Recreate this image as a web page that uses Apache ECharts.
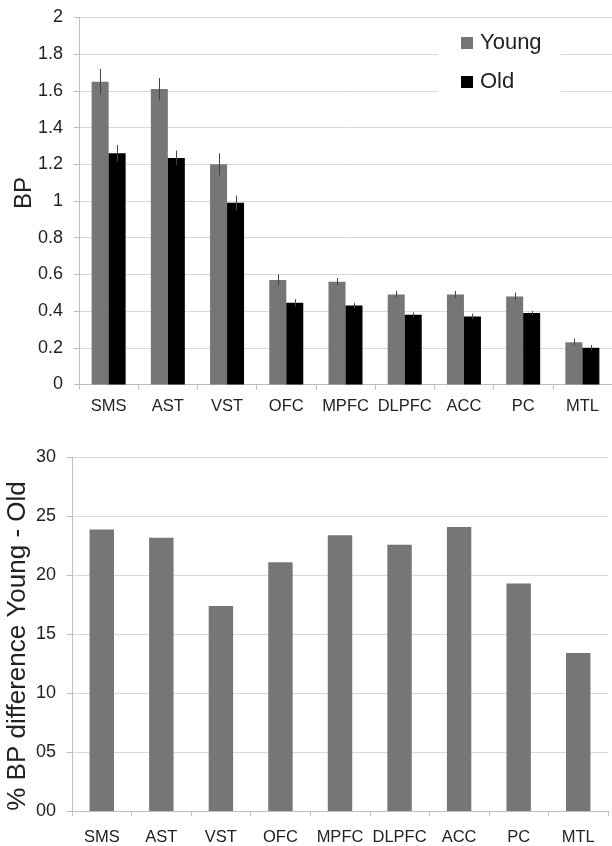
<!DOCTYPE html>
<html>
<head>
<meta charset="utf-8">
<script src="https://cdn.jsdelivr.net/npm/echarts@6/dist/echarts.min.js"></script>
<style>
  html, body { margin: 0; padding: 0; background: #fff; }
  #chart { width: 612px; height: 846px; }
</style>
</head>
<body>
<div id="chart"></div>
<script>
// ---- data ----
const regions = ['SMS', 'AST', 'VST', 'OFC', 'MPFC', 'DLPFC', 'ACC', 'PC', 'MTL'];
const youngBP = [1.65, 1.61, 1.20, 0.57, 0.56, 0.49, 0.49, 0.48, 0.23];
const oldBP   = [1.26, 1.235, 0.99, 0.445, 0.43, 0.38, 0.37, 0.39, 0.20];
const youngErr = [0.07, 0.06, 0.06, 0.03, 0.02, 0.02, 0.02, 0.02, 0.02];
const oldErr   = [0.045, 0.04, 0.04, 0.02, 0.015, 0.013, 0.015, 0.01, 0.015];
const pctDiff = [23.9, 23.2, 17.4, 21.1, 23.4, 22.6, 24.1, 19.3, 13.4];
const bpTicks = [0, 0.2, 0.4, 0.6, 0.8, 1, 1.2, 1.4, 1.6, 1.8, 2];
const pctTicks = ['00', '05', '10', '15', '20', '25', '30'];

const FONT = "'Liberation Sans', Arial, Helvetica, sans-serif";
const TXT = '#222';
const AXIS = '#bfbfbf';
const GRID = '#d9d9d9';
const GRAY = '#767676';
const TOP_BAR_W = 0.287;

function errSeries(vals, errs, side) {
  return {
    type: 'custom',
    xAxisIndex: 0, yAxisIndex: 0,
    z: 5,
    silent: true,
    data: vals.map((v, i) => [i, v, errs[i]]),
    encode: { x: 0, y: 1 },
    renderItem: function (params, api) {
      const i = api.value(0), v = api.value(1), e = api.value(2);
      const band = api.size([1, 0])[0];
      const off = side * band * TOP_BAR_W / 2;
      const p1 = api.coord([i, v + e]);
      const p2 = api.coord([i, v - e]);
      const x = Math.round(p1[0] + off) + 0.5;
      return {
        type: 'line',
        shape: { x1: x, y1: p1[1], x2: x, y2: p2[1] },
        style: { stroke: '#444', lineWidth: 1 }
      };
    }
  };
}

const chart = echarts.init(document.getElementById('chart'), null, { renderer: 'canvas' });
chart.setOption({
  animation: false,
  backgroundColor: '#fff',
  textStyle: { fontFamily: FONT, color: TXT },
  grid: [
    { left: 79, top: 17.5, right: 0, bottom: 461.5, containLabel: false },
    { left: 72, top: 457.5, right: 4, bottom: 33.3, containLabel: false }
  ],
  legend: {
    data: ['Young', 'Old'],
    orient: 'vertical',
    left: 438, top: 22,
    padding: [10, 19, 10, 23],
    itemGap: 17,
    itemWidth: 12, itemHeight: 12,
    icon: 'rect',
    backgroundColor: '#fff',
    textStyle: { fontSize: 22, color: TXT, fontFamily: FONT, padding: [0, 0, 0, 2] }
  },
  graphic: [
    { type: 'text', x: 24, y: 193, rotation: Math.PI / 2,
      style: { text: 'BP', fontSize: 24, fontFamily: FONT, fill: TXT, align: 'center', verticalAlign: 'middle' } },
    { type: 'text', x: 18, y: 646, rotation: Math.PI / 2,
      style: { text: '% BP difference Young - Old', fontSize: 26, fontFamily: FONT, fill: TXT, align: 'center', verticalAlign: 'middle' } }
  ],
  xAxis: [
    { type: 'category', gridIndex: 0, data: regions,
      axisLine: { lineStyle: { color: AXIS } },
      axisTick: { show: true, length: 5, lineStyle: { color: AXIS } },
      axisLabel: { fontSize: 16.5, margin: 13, color: TXT, fontFamily: FONT, interval: 0 },
      splitLine: { show: false } },
    { type: 'category', gridIndex: 1, data: regions,
      axisLine: { lineStyle: { color: AXIS } },
      axisTick: { show: true, length: 5, lineStyle: { color: AXIS } },
      axisLabel: { fontSize: 16.5, margin: 18, color: TXT, fontFamily: FONT, interval: 0 },
      splitLine: { show: false } }
  ],
  yAxis: [
    { type: 'value', gridIndex: 0, min: bpTicks[0], max: bpTicks[bpTicks.length - 1], interval: 0.2,
      axisLine: { show: true, lineStyle: { color: AXIS } },
      axisTick: { show: true, length: 5, lineStyle: { color: AXIS } },
      splitLine: { show: true, lineStyle: { color: GRID, width: 1 } },
      axisLabel: { fontSize: 18, margin: 16, color: TXT, fontFamily: FONT,
        formatter: v => String(Math.round(v * 10) / 10) } },
    { type: 'value', gridIndex: 1, min: 0, max: 30, interval: 5,
      axisLine: { show: true, lineStyle: { color: AXIS } },
      axisTick: { show: true, length: 5, lineStyle: { color: AXIS } },
      splitLine: { show: true, lineStyle: { color: GRID, width: 1 } },
      axisLabel: { fontSize: 18, margin: 16, color: TXT, fontFamily: FONT,
        formatter: v => pctTicks[Math.round(v / 5)] } }
  ],
  series: [
    { name: 'Young', type: 'bar', xAxisIndex: 0, yAxisIndex: 0, data: youngBP,
      barWidth: (TOP_BAR_W * 100) + '%', barGap: '0%', itemStyle: { color: GRAY } },
    { name: 'Old', type: 'bar', xAxisIndex: 0, yAxisIndex: 0, data: oldBP,
      barWidth: (TOP_BAR_W * 100) + '%', barGap: '0%', itemStyle: { color: '#000' } },
    errSeries(youngBP, youngErr, -1),
    errSeries(oldBP, oldErr, 1),
    { name: 'Difference', type: 'bar', xAxisIndex: 1, yAxisIndex: 1, data: pctDiff,
      barWidth: '41%', itemStyle: { color: GRAY } }
  ]
});
</script>
</body>
</html>
